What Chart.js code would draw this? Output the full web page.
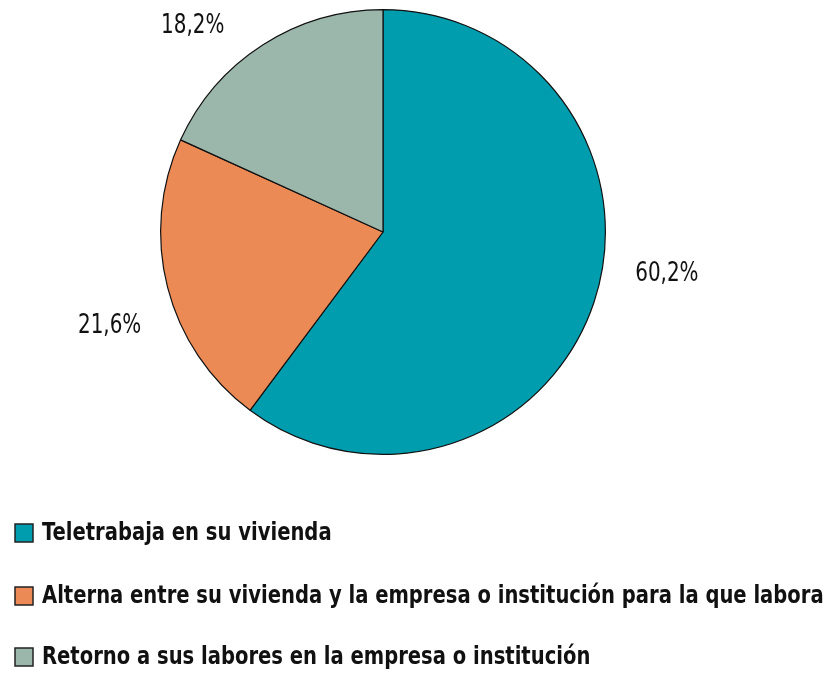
<!DOCTYPE html>
<html>
<head>
<meta charset="utf-8">
<script src="https://cdn.jsdelivr.net/npm/chart.js@4/dist/chart.umd.min.js"></script>
<style>
  html, body { margin: 0; padding: 0; background: #fff; }
  #wrap { width: 830px; height: 675px; }
</style>
</head>
<body>
<div id="wrap"><canvas id="myChart" width="830" height="675"></canvas></div>
<script>
// data
var categories = [
  "Teletrabaja en su vivienda",
  "Alterna entre su vivienda y la empresa o institución para la que labora",
  "Retorno a sus labores en la empresa o institución"
];
var shares = [60.2, 21.6, 18.2];
var sliceColors = ["#009dae", "#ec8a55", "#9bb6ab"];

var FONT = "'Liberation Sans Narrow', 'DejaVu Sans Condensed', 'Arial Narrow', sans-serif";

// percent labels around the pie (angle tweak in degrees, distance as share of radius)
var labelShift = [-10, -4.6, -10];
var labelDist = [1.29, 1.30, 1.26];

// draw text squeezed horizontally to mimic a condensed face
function squeezedText(ctx, txt, x, y, sx) {
  ctx.save();
  ctx.translate(x, y);
  ctx.scale(sx, 1);
  ctx.fillText(txt, 0, 0);
  ctx.restore();
}

var pieLabels = {
  id: 'pieLabels',
  afterDatasetsDraw: function(chart) {
    var ctx = chart.ctx;
    var meta = chart.getDatasetMeta(0);
    ctx.save();
    ctx.font = "27px " + FONT;
    ctx.fillStyle = "#111";
    ctx.textAlign = "center";
    ctx.textBaseline = "middle";
    meta.data.forEach(function(arc, i) {
      var a = (arc.startAngle + arc.endAngle) / 2 + labelShift[i] * Math.PI / 180;
      var r = arc.outerRadius * labelDist[i];
      var txt = shares[i].toFixed(1).replace(".", ",") + "%";
      squeezedText(ctx, txt, arc.x + Math.cos(a) * r, arc.y + Math.sin(a) * r, 0.82);
    });
    ctx.restore();
  }
};

// legend drawn under the pie, one row per item
var bottomLegend = {
  id: 'bottomLegend',
  afterDraw: function(chart) {
    var ctx = chart.ctx;
    var rows = [533, 596, 657];
    ctx.save();
    ctx.font = "bold 25px " + FONT;
    ctx.textBaseline = "middle";
    ctx.textAlign = "left";
    categories.forEach(function(label, i) {
      var y = rows[i];
      ctx.fillStyle = sliceColors[i];
      ctx.fillRect(15, y - 9, 18, 18);
      ctx.lineWidth = 1.5;
      ctx.strokeStyle = "#222";
      ctx.strokeRect(15, y - 9, 18, 18);
      ctx.fillStyle = "#111";
      squeezedText(ctx, label, 42, y, 0.87);
    });
    ctx.restore();
  }
};

var canvas = document.getElementById("myChart");
var chart = new Chart(canvas, {
  type: 'pie',
  data: {
    labels: categories,
    datasets: [{
      data: shares,
      backgroundColor: sliceColors,
      borderColor: "#111",
      borderWidth: 1.2
    }]
  },
  options: {
    responsive: false,
    animation: false,
    layout: { padding: { top: 9, bottom: 220, left: 0, right: 64 } },
    plugins: {
      legend: { display: false },
      tooltip: { enabled: false }
    }
  },
  plugins: [pieLabels, bottomLegend]
});
</script>
</body>
</html>
